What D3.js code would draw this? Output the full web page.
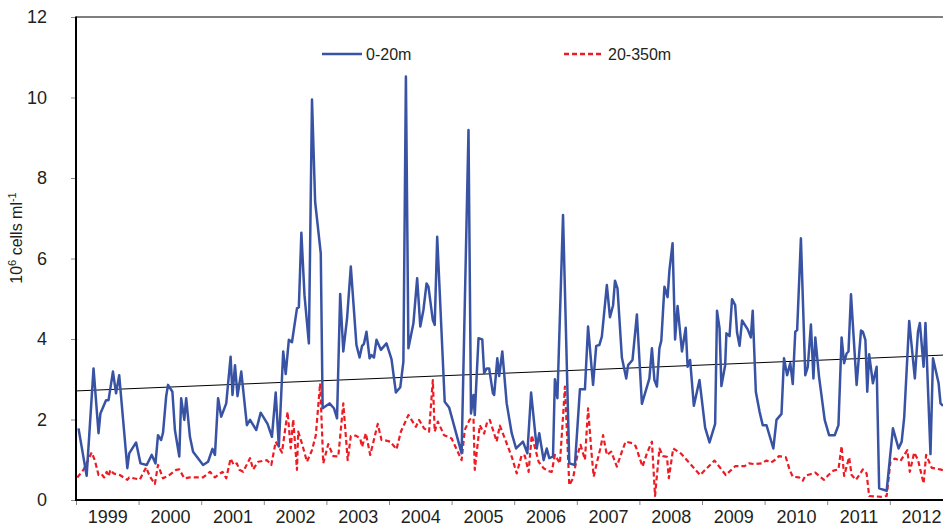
<!DOCTYPE html>
<html>
<head>
<meta charset="utf-8">
<script src="https://cdn.jsdelivr.net/npm/d3@7"></script>
<style>
  html, body { margin: 0; padding: 0; background: #fff; }
  svg { display: block; font-family: "Liberation Sans", Arial, sans-serif; }
</style>
</head>
<body>
<svg id="chart" width="943" height="532"></svg>
<script>
// Year labels on the time axis
const yearLabels = ["1999","2000","2001","2002","2003","2004","2005","2006","2007","2008","2009","2010","2011","2012"];
const yTicks = [0, 2, 4, 6, 8, 10, 12];

// 0-20 m layer: sampling dates (decimal years) and abundance (10^6 cells/ml)
const surfaceDates = [
  1999.04,1999.17,1999.28,1999.36,1999.39,1999.48,1999.52,1999.59,1999.64,1999.69,1999.82,1999.85,1999.96,
  2000.03,2000.13,2000.21,2000.27,2000.31,2000.36,2000.39,2000.44,2000.47,2000.54,2000.58,2000.65,2000.68,2000.73,2000.76,2000.82,2000.87,
  2001.03,2001.11,2001.18,2001.22,2001.27,2001.32,2001.40,2001.47,2001.50,2001.54,2001.58,2001.64,2001.73,2001.78,2001.88,2001.95,
  2002.06,2002.13,2002.19,2002.24,2002.31,2002.35,2002.40,2002.45,2002.53,2002.56,2002.60,2002.65,2002.72,2002.77,2002.82,2002.91,2002.94,
  2003.05,2003.12,2003.17,2003.22,2003.27,2003.33,2003.39,2003.48,2003.53,2003.57,2003.60,2003.64,2003.69,2003.72,2003.76,2003.80,2003.87,2003.96,
  2004.04,2004.11,2004.18,2004.23,2004.27,2004.31,2004.39,2004.45,2004.50,2004.55,2004.60,2004.63,2004.70,2004.73,2004.77,2004.89,2004.96,
  2005.16,2005.27,2005.31,2005.35,2005.37,2005.43,2005.49,2005.52,2005.56,2005.60,2005.66,2005.68,2005.73,2005.76,2005.81,2005.88,2005.96,
  2006.03,2006.14,2006.21,2006.27,2006.36,2006.40,2006.47,2006.52,2006.56,2006.62,2006.65,2006.69,2006.78,2006.88,2006.97,
  2007.05,2007.13,2007.18,2007.26,2007.31,2007.36,2007.40,2007.48,2007.53,2007.58,2007.61,2007.65,2007.72,2007.79,2007.82,2007.89,2007.96,
  2008.04,2008.16,2008.20,2008.24,2008.28,2008.32,2008.35,2008.40,2008.45,2008.48,2008.53,2008.57,2008.61,2008.68,2008.74,2008.77,2008.81,2008.87,2008.96,
  2009.05,2009.12,2009.21,2009.24,2009.28,2009.31,2009.37,2009.39,2009.44,2009.48,2009.53,2009.56,2009.60,2009.64,2009.73,2009.78,2009.81,2009.86,2009.92,2009.97,
  2010.03,2010.14,2010.19,2010.27,2010.31,2010.36,2010.41,2010.45,2010.49,2010.52,2010.58,2010.65,2010.69,2010.74,2010.78,2010.81,2010.87,2010.96,
  2011.03,2011.12,2011.18,2011.23,2011.27,2011.31,2011.34,2011.38,2011.47,2011.54,2011.57,2011.61,2011.64,2011.67,2011.73,2011.79,2011.83,2011.95,
  2012.05,2012.14,2012.19,2012.23,2012.31,2012.40,2012.45,2012.48,2012.54,2012.57,2012.65,2012.69,2012.78,2012.81,2012.85
];
const surfaceValues = [
  1.78,0.60,3.27,1.66,2.15,2.48,2.48,3.19,2.65,3.10,0.79,1.16,1.43,
  0.91,0.87,1.12,0.91,1.61,1.49,1.67,2.57,2.86,2.69,1.74,1.08,2.53,1.99,2.53,1.57,1.20,
  0.87,0.95,1.27,1.12,2.53,2.07,2.40,3.56,2.61,3.35,2.58,3.19,1.86,1.99,1.74,2.17,
  1.89,1.57,2.67,1.33,3.69,3.13,3.98,3.92,4.76,4.79,6.64,5.09,3.89,9.95,7.41,6.13,2.28,
  2.40,2.28,2.03,5.12,3.69,4.51,5.80,3.85,3.54,3.83,3.88,4.18,3.52,3.60,3.54,3.98,3.73,3.89,
  3.50,2.67,2.80,3.44,10.52,3.77,4.39,5.51,4.31,4.72,5.38,5.30,4.47,4.35,6.54,2.44,2.30,
  1.16,9.19,2.15,2.61,2.11,4.02,3.99,3.15,3.27,3.27,2.65,2.61,3.52,3.08,3.69,2.40,1.66,
  1.28,1.45,1.16,2.67,1.28,1.66,0.99,1.28,1.04,1.08,3.00,2.53,7.08,0.91,0.87,
  2.75,2.75,4.31,2.86,3.83,3.85,4.06,5.34,4.54,4.84,5.45,5.26,3.54,3.02,3.35,3.48,4.61,
  2.39,3.02,3.77,2.98,2.82,3.77,3.96,5.30,5.04,5.71,6.38,3.99,4.82,3.69,4.28,3.31,3.48,2.34,2.98,
  1.80,1.43,1.89,4.70,4.27,2.83,3.35,4.14,4.07,4.99,4.84,4.16,3.83,4.46,4.24,4.04,4.70,2.69,2.19,1.86,
  1.86,1.28,1.99,2.14,3.52,3.10,3.40,2.88,4.18,4.22,6.50,3.10,3.31,4.36,3.02,4.04,3.06,1.99,
  1.61,1.61,1.86,4.04,3.40,3.64,3.69,5.11,2.86,4.21,4.18,3.98,2.69,3.62,2.90,3.31,0.29,0.23,
  1.78,1.28,1.45,2.05,4.45,3.02,4.18,4.40,3.31,4.40,1.14,3.52,2.90,2.40,2.34
];

// 20-350 m layer
const deepDates = [
  1999.02,1999.12,1999.25,1999.30,1999.36,1999.41,1999.45,1999.49,1999.52,1999.55,1999.60,1999.70,1999.76,1999.82,1999.85,1999.92,
  2000.02,2000.12,2000.18,2000.26,2000.31,2000.39,2000.49,2000.60,2000.65,2000.73,2000.82,2000.95,
  2001.03,2001.14,2001.22,2001.27,2001.34,2001.40,2001.47,2001.52,2001.57,2001.61,2001.67,2001.78,2001.83,2001.91,
  2002.05,2002.12,2002.19,2002.29,2002.38,2002.43,2002.47,2002.53,2002.55,2002.61,2002.69,2002.77,2002.83,2002.90,2002.95,
  2003.03,2003.11,2003.19,2003.27,2003.34,2003.39,2003.47,2003.54,2003.57,2003.63,2003.70,2003.76,2003.82,2003.88,2003.94,
  2004.02,2004.12,2004.19,2004.31,2004.36,2004.43,2004.48,2004.56,2004.64,2004.70,2004.73,2004.78,2004.88,
  2005.00,2005.16,2005.21,2005.29,2005.35,2005.37,2005.45,2005.52,2005.57,2005.61,2005.72,2005.77,2005.85,2005.96,
  2006.04,2006.12,2006.17,2006.23,2006.28,2006.39,2006.47,2006.54,2006.60,2006.65,2006.73,2006.78,2006.81,2006.88,2006.94,
  2007.01,2007.06,2007.13,2007.18,2007.24,2007.27,2007.33,2007.37,2007.42,2007.48,2007.55,2007.64,2007.72,2007.78,2007.89,2007.94,
  2008.05,2008.12,2008.20,2008.25,2008.32,2008.38,2008.44,2008.47,2008.54,2008.66,2008.81,2008.97,
  2009.05,2009.20,2009.29,2009.38,2009.53,2009.68,2009.75,2009.84,2009.95,
  2010.03,2010.10,2010.17,2010.23,2010.34,2010.40,2010.45,2010.55,2010.61,2010.65,2010.81,2010.87,2010.95,
  2011.02,2011.10,2011.18,2011.23,2011.27,2011.35,2011.39,2011.46,2011.57,2011.63,2011.67,2011.87,2011.95,
  2012.01,2012.08,2012.17,2012.28,2012.32,2012.39,2012.45,2012.54,2012.58,2012.67,2012.80,2012.85
];
const deepValues = [
  0.56,0.75,1.18,0.99,0.62,0.64,0.56,0.70,0.59,0.75,0.66,0.62,0.56,0.50,0.56,0.54,
  0.51,0.81,0.58,0.40,0.87,0.54,0.62,0.75,0.76,0.54,0.56,0.56,
  0.56,0.70,0.56,0.62,0.70,0.54,1.03,0.87,0.91,0.75,0.70,1.04,0.76,0.95,
  0.99,0.87,1.45,1.18,2.19,1.28,2.00,0.75,1.70,1.40,0.95,1.24,1.60,2.90,0.91,
  1.39,1.09,1.08,2.40,0.99,1.59,1.60,1.53,1.32,1.66,1.12,1.50,1.89,1.49,1.48,
  1.45,1.26,1.70,2.11,1.99,1.82,1.99,1.78,1.70,2.98,1.70,1.95,1.61,
  1.53,0.99,1.74,2.00,2.03,0.75,1.86,1.65,1.95,1.99,1.45,1.85,1.53,1.08,
  0.66,1.12,1.10,0.70,1.61,0.95,0.79,0.72,0.70,1.12,0.91,2.07,2.82,0.37,0.54,
  1.12,1.37,1.00,2.28,1.08,0.58,0.99,1.24,1.61,1.12,1.20,0.83,1.20,1.45,1.41,1.34,
  0.83,1.16,1.45,0.10,1.28,1.09,1.07,0.54,1.28,1.16,0.90,0.62,
  0.75,0.98,0.80,0.62,0.84,0.84,0.91,0.89,0.91,
  0.98,0.93,1.00,1.09,1.06,0.75,0.58,0.56,0.48,0.60,0.68,0.60,0.50,
  0.62,0.73,0.76,1.34,0.60,1.06,0.62,0.50,0.76,0.66,0.10,0.08,0.10,
  0.95,1.03,0.97,1.24,0.70,1.18,1.00,0.41,1.12,0.80,0.76,0.74
];

// Linear trend of the surface series (start and end of the fitted line)
const trendDates = [1999.0, 2012.85];
const trendValues = [2.71, 3.60];

const svg = d3.select("#chart");
const plotLeft = 76, plotBottom = 500, plotTop = 17;
const yearWidth = 62.6;

const x = d3.scaleLinear()
  .domain([1999, 2013])
  .range([plotLeft, plotLeft + 14 * yearWidth]);
const y = d3.scaleLinear().domain([0, 12]).range([plotBottom, plotTop]);

const textColor = "#231f20";

// Plot frame top edge
svg.append("line")
  .attr("x1", plotLeft).attr("x2", 943)
  .attr("y1", plotTop).attr("y2", plotTop)
  .attr("stroke", "#000").attr("stroke-width", 1);

// Y axis
const yAxis = svg.append("g")
  .attr("transform", `translate(${plotLeft},0)`)
  .call(d3.axisLeft(y).tickValues(yTicks).tickSize(5).tickPadding(24).tickFormat(d3.format("d")));
yAxis.select(".domain").remove();
yAxis.selectAll(".tick line").attr("stroke", "#888");
yAxis.selectAll(".tick text")
  .attr("fill", textColor)
  .style("font-size", "18px");
svg.append("line")
  .attr("x1", plotLeft).attr("x2", plotLeft)
  .attr("y1", plotTop - 0.5).attr("y2", plotBottom + 1)
  .attr("stroke", "#000").attr("stroke-width", 2);

// X axis: tick marks at year boundaries, labels centred in each year
const yearStarts = d3.range(1999, 2014);
const xTicks = svg.append("g")
  .attr("transform", `translate(0,${plotBottom})`)
  .call(d3.axisBottom(x).tickValues(yearStarts).tickSize(5).tickFormat(""));
xTicks.select(".domain").remove();
xTicks.selectAll(".tick line").attr("stroke", "#888");

const xLabels = svg.append("g")
  .attr("transform", `translate(0,${plotBottom})`)
  .call(d3.axisBottom(x)
    .tickValues(yearLabels.map(d => +d + 0.5))
    .tickSize(0).tickPadding(10)
    .tickFormat((d, i) => yearLabels[i]));
xLabels.select(".domain").remove();
xLabels.selectAll(".tick text")
  .attr("fill", textColor)
  .style("font-size", "18px");

svg.append("line")
  .attr("x1", plotLeft - 1).attr("x2", 943)
  .attr("y1", plotBottom).attr("y2", plotBottom)
  .attr("stroke", "#000").attr("stroke-width", 2);

// Y axis title
const yTitle = svg.append("text")
  .attr("transform", `translate(22,238) rotate(-90)`)
  .attr("text-anchor", "middle")
  .attr("fill", textColor)
  .style("font-size", "16px");
yTitle.append("tspan").text("10");
yTitle.append("tspan").attr("dy", -6).style("font-size", "11px").text("6");
yTitle.append("tspan").attr("dy", 6).text(" cells ml");
yTitle.append("tspan").attr("dy", -6).style("font-size", "11px").text("-1");

// Series
const line = d3.line().x(d => x(d[0])).y(d => y(d[1]));

svg.append("path")
  .datum(d3.zip(trendDates, trendValues))
  .attr("d", line)
  .attr("fill", "none")
  .attr("stroke", "#000")
  .attr("stroke-width", 1);

svg.append("path")
  .datum(d3.zip(deepDates, deepValues))
  .attr("d", line)
  .attr("fill", "none")
  .attr("stroke", "#ed1c24")
  .attr("stroke-width", 2.2)
  .attr("stroke-dasharray", "5,3")
  .attr("stroke-linejoin", "round");

svg.append("path")
  .datum(d3.zip(surfaceDates, surfaceValues))
  .attr("d", line)
  .attr("fill", "none")
  .attr("stroke", "#3953a4")
  .attr("stroke-width", 2.5)
  .attr("stroke-linejoin", "round");

// Legend
const legend = [
  { label: "0-20m", color: "#3953a4", dash: null, x: 322 },
  { label: "20-350m", color: "#ed1c24", dash: "5,3", x: 564 }
];
const lg = svg.append("g");
legend.forEach(item => {
  lg.append("line")
    .attr("x1", item.x).attr("x2", item.x + 40)
    .attr("y1", 54).attr("y2", 54)
    .attr("stroke", item.color)
    .attr("stroke-width", 2.4)
    .attr("stroke-dasharray", item.dash);
  lg.append("text")
    .attr("x", item.x + 44).attr("y", 60)
    .attr("fill", textColor)
    .style("font-size", "16px")
    .text(item.label);
});
</script>
</body>
</html>
